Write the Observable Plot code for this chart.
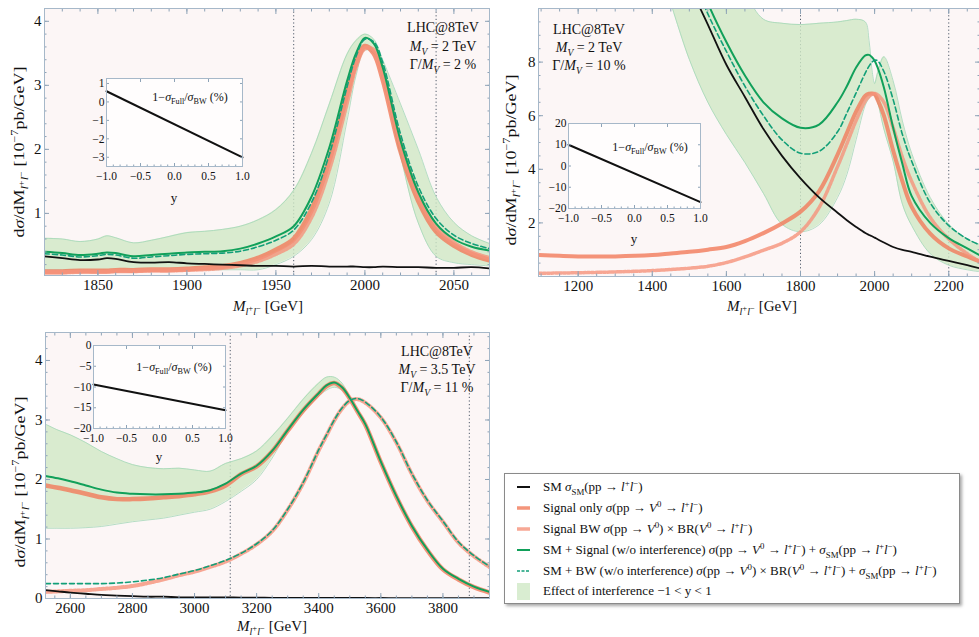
<!DOCTYPE html>
<html><head><meta charset="utf-8">
<script src="https://cdn.jsdelivr.net/npm/d3@7"></script>
<script src="https://cdn.jsdelivr.net/npm/@observablehq/plot@0.6"></script>
<style>
body{margin:0;background:#fff;}
#root{position:relative;width:979px;height:637px;overflow:hidden;font-family:'Liberation Serif','DejaVu Serif',serif;color:#111;background:#fff;}
#root svg, #root svg text{font-family:'Liberation Serif','DejaVu Serif',serif !important;}
.abs{position:absolute;white-space:nowrap;line-height:1;}
sub,sup{font-size:0.68em;line-height:0;}
sub sup{font-size:0.85em;vertical-align:0.45em;}
.ann{font-size:14px;text-align:center;transform:translate(-50%,-50%);}
.xl{font-size:15px;transform:translate(-50%,-50%);}
.yl{font-size:15px;transform:translate(-50%,-50%) rotate(-90deg) scale(1.2,1);}
.il{font-size:12px;transform:translate(-50%,-50%);}
.iy{font-size:13px;transform:translate(-50%,-50%);}
#legend{position:absolute;left:504px;top:473px;width:456px;height:131px;border:1px solid #8a8a8a;box-shadow:2px 2px 3px rgba(0,0,0,0.35);background:#fff;box-sizing:border-box;padding-top:3px;}
.row{display:flex;align-items:center;height:20.8px;font-size:13px;}
.sw{width:13px;margin-left:12px;margin-right:13px;flex:none;}
</style></head><body><div id="root"></div>
<script>
// ---------------- DATA ----------------
// Panel 1: M_V = 2 TeV, Gamma/M_V = 2 %
const tlMass = [1820,1830,1840,1850,1855,1860,1870,1880,1890,1900,1910,1920,1930,1940,1950,1960,1970,1980,1990,1995,2000,2005,2010,2020,2030,2040,2050,2060,2070];
const tlSM = [0.33,0.30,0.27,0.28,0.30,0.29,0.24,0.23,0.24,0.22,0.21,0.20,0.19,0.18,0.18,0.17,0.18,0.17,0.17,0.17,0.16,0.16,0.17,0.16,0.16,0.15,0.15,0.16,0.14];
const tlSignal = [0.09,0.09,0.10,0.10,0.10,0.11,0.11,0.12,0.12,0.13,0.15,0.17,0.22,0.30,0.43,0.60,1.05,1.83,2.87,3.35,3.61,3.50,3.10,1.98,1.20,0.72,0.50,0.36,0.27];
const tlBW = [0.08,0.08,0.09,0.09,0.09,0.10,0.10,0.11,0.11,0.12,0.13,0.15,0.19,0.26,0.37,0.53,0.95,1.70,2.75,3.30,3.58,3.55,3.20,2.10,1.28,0.78,0.54,0.39,0.30];
const tlSMSignal = [0.40,0.38,0.35,0.37,0.39,0.38,0.33,0.35,0.37,0.39,0.40,0.41,0.45,0.53,0.64,0.80,1.26,2.03,3.07,3.50,3.74,3.65,3.28,2.14,1.33,0.84,0.60,0.48,0.42];
const tlSMBW = [0.37,0.35,0.32,0.34,0.36,0.35,0.30,0.32,0.34,0.36,0.37,0.38,0.41,0.48,0.58,0.74,1.17,1.92,2.98,3.45,3.72,3.68,3.36,2.24,1.42,0.92,0.66,0.53,0.45];
const tlBandHigh = [0.61,0.60,0.56,0.60,0.65,0.62,0.54,0.58,0.64,0.70,0.72,0.75,0.80,0.90,1.06,1.36,1.94,2.71,3.49,3.70,3.80,3.72,3.40,2.71,2.00,1.26,0.86,0.65,0.53];
const tlBandLow = [0.12,0.12,0.12,0.12,0.12,0.12,0.12,0.12,0.12,0.12,0.12,0.12,0.12,0.12,0.20,0.33,0.59,1.16,2.45,3.15,3.55,3.50,3.10,1.90,0.85,0.33,0.23,0.20,0.18];
const tlWidthLines = [1960, 2040];
const tlXTicks = [1850,1900,1950,2000,2050];
const tlYTicks = [1,2,3,4];
const tlRatio = [0.58, -3.0];

// Panel 2: M_V = 2 TeV, Gamma/M_V = 10 %
const trMass = [1095,1150,1200,1300,1400,1450,1500,1550,1600,1650,1700,1750,1800,1850,1900,1925,1950,1975,1985,1993,2000,2008,2025,2050,2075,2100,2150,2200,2250,2283];
const trSM = [null,null,null,null,null,12.7,10.9,9.4,7.9,6.7,5.5,4.5,3.66,2.95,2.38,2.1,1.85,1.62,1.55,1.5,1.45,1.39,1.27,1.1,0.99,0.92,0.74,0.58,0.42,0.31];
const trSignal = [0.8,0.77,0.75,0.75,0.8,0.86,0.92,1.0,1.1,1.32,1.62,1.98,2.42,3.18,4.55,5.35,6.15,6.75,6.82,6.83,6.8,6.6,6.0,4.7,3.55,2.6,1.6,1.05,0.75,0.56];
const trBW = [0.12,0.13,0.14,0.17,0.22,0.26,0.31,0.38,0.52,0.73,0.98,1.24,1.67,2.57,4.1,4.95,5.82,6.55,6.72,6.8,6.83,6.78,6.5,5.55,4.45,3.55,2.2,1.4,0.85,0.56];
const trSMSignal = [null,null,null,null,null,14,12.0,10.2,8.75,7.5,6.5,5.9,5.55,5.67,6.5,7.1,7.8,8.25,8.27,8.18,8.05,7.8,7.05,5.55,4.2,3.0,2.0,1.43,1.05,0.8];
const trSMBW = [null,null,null,null,null,13.5,11.5,9.8,8.4,7.1,6.0,5.1,4.6,4.67,5.4,6.1,6.85,7.6,7.85,8.0,8.07,8.05,7.65,6.6,5.3,4.3,2.75,1.9,1.4,1.18];
const trBandHigh = [null,null,null,null,null,12,13,13,12,10.6,9.6,9.45,9.4,9.45,9.5,9.55,9.6,9.5,8.8,7.7,7.2,7.6,8.2,7.3,5.8,4.6,2.95,1.95,1.4,1.2];
const trBandLow = [null,null,null,null,null,10.2,8.1,6.5,5.3,4.25,3.1,1.95,1.67,1.93,2.95,3.8,5.1,6.4,6.65,6.8,6.75,6.5,5.5,4.3,2.7,1.9,0.85,0.42,0.25,0.18];
const trWidthLines = [1800, 2200];
const trXTicks = [1200,1400,1600,1800,2000,2200];
const trYTicks = [2,4,6,8];
const trRatio = [10, -17];

// Panel 3: M_V = 3.5 TeV, Gamma/M_V = 11 %
const blMass = [2520,2560,2600,2650,2700,2750,2800,2850,2900,2950,3000,3050,3100,3150,3200,3250,3300,3350,3400,3425,3450,3475,3500,3525,3550,3600,3650,3700,3750,3800,3850,3900,3950];
const blSM = [0.14,0.12,0.10,0.08,0.06,0.05,0.04,0.03,0.03,0.02,0.02,0.02,0.02,0.015,0.015,0.01,0.01,0.01,0.01,0.01,0.01,0.01,0.01,0.01,0.008,0.008,0.007,0.007,0.006,0.006,0.005,0.005,0.005];
const blSignal = [1.9,1.86,1.82,1.76,1.7,1.67,1.67,1.68,1.7,1.72,1.75,1.8,1.9,2.09,2.22,2.47,2.82,3.16,3.44,3.57,3.62,3.54,3.36,3.14,2.92,2.29,1.71,1.21,0.81,0.49,0.32,0.19,0.1];
const blBW = [0.11,0.12,0.13,0.14,0.16,0.18,0.21,0.26,0.32,0.39,0.45,0.53,0.62,0.75,0.91,1.13,1.49,1.94,2.49,2.74,2.99,3.19,3.32,3.35,3.29,3.04,2.62,2.09,1.64,1.29,0.94,0.71,0.53];
const blSMSignal = [2.06,2.02,1.97,1.9,1.83,1.78,1.76,1.75,1.75,1.76,1.78,1.82,1.93,2.1,2.23,2.48,2.83,3.17,3.45,3.58,3.63,3.55,3.37,3.15,2.93,2.3,1.72,1.22,0.82,0.5,0.33,0.2,0.11];
const blSMBW = [0.25,0.25,0.25,0.25,0.25,0.26,0.28,0.31,0.35,0.41,0.47,0.55,0.64,0.76,0.92,1.14,1.5,1.95,2.5,2.75,3.0,3.2,3.33,3.36,3.3,3.05,2.63,2.1,1.65,1.3,0.95,0.72,0.54];
const blBandHigh = [2.93,2.83,2.75,2.62,2.47,2.35,2.25,2.2,2.18,2.19,2.16,2.14,2.27,2.35,2.48,2.73,3.03,3.35,3.62,3.72,3.72,3.62,3.38,null,null,null,null,null,null,null,null,null,null];
const blBandLow = [1.18,1.18,1.18,1.19,1.21,1.25,1.29,1.32,1.35,1.4,1.45,1.5,1.63,1.8,2.0,2.36,2.8,3.12,3.4,3.5,3.55,3.5,3.36,null,null,null,null,null,null,null,null,null,null];
const blWidthLines = [3115, 3885];
const blXTicks = [2600,2800,3000,3200,3400,3600,3800];
const blYTicks = [0,1,2,3,4];
const blRatio = [-9.4, -15.6];

// Insets
const insetCoupling = [-1, 1];
const insetXTicks = [-1,-0.5,0,0.5,1];
const tlInsetYTicks = [1,0,-1,-2,-3];
const trInsetYTicks = [20,10,0,-10,-20];
const blInsetYTicks = [0,-5,-10,-15,-20];

const panelTexts = [
  ["LHC@8TeV", "<i>M<sub>V</sub></i> = 2 TeV", "Γ/<i>M<sub>V</sub></i> = 2 %"],
  ["LHC@8TeV", "<i>M<sub>V</sub></i> = 2 TeV", "Γ/<i>M<sub>V</sub></i> = 10 %"],
  ["LHC@8TeV", "<i>M<sub>V</sub></i> = 3.5 TeV", "Γ/<i>M<sub>V</sub></i> = 11 %"]
];
const ll = "<i>l</i><sup>+</sup><i>l</i><sup>−</sup>";
const legendLabels = [
  `SM <i>σ</i><sub>SM</sub>(pp → ${ll})`,
  `Signal only <i>σ</i>(pp → <i>V</i><sup>0</sup> → ${ll})`,
  `Signal BW <i>σ</i>(pp → <i>V</i><sup>0</sup>) × BR(<i>V</i><sup>0</sup> → ${ll})`,
  `SM + Signal (w/o interference) <i>σ</i>(pp → <i>V</i><sup>0</sup> → ${ll}) + <i>σ</i><sub>SM</sub>(pp → ${ll})`,
  `SM + BW (w/o interference) <i>σ</i>(pp → <i>V</i><sup>0</sup>) × BR(<i>V</i><sup>0</sup> → ${ll}) + <i>σ</i><sub>SM</sub>(pp → ${ll})`,
  `Effect of interference −1 &lt; y &lt; 1`
];

// ---------------- DRAWING ----------------
const SERIF = "Liberation Serif";
const C = {sm:"#111111", sig:"#f17a5a", bw:"#f5927a", green:"#11a05a", greenDash:"#129f78",
  band:"#cfe9c5", bandEdge:"#a3d7b8", frame:"#a6b8c9", tick:"#8ea3b7", bg:"#fcf6f6"};
const root = document.getElementById("root");

function rowsOf(mass, sm, sig, bw, smsig, smbw, lo, hi) {
  return mass.map((m, i) => ({m, sm: sm[i], sig: sig[i], bw: bw[i], smsig: smsig[i], smbw: smbw[i], lo: lo[i], hi: hi[i]}));
}
function range(a, b, s) { const r = []; for (let v = a; v <= b + 1e-9; v += s) r.push(+v.toFixed(6)); return r; }
function place(el, left, top) { Object.assign(el.style, {position: "absolute", left: left + "px", top: top + "px"}); root.append(el); }

function curveMarks(rows, sw) {
  const o = {x: "m", curve: "catmull-rom", clip: true};
  return [
    Plot.areaY(rows, {...o, y1: "lo", y2: "hi", fill: C.band, fillOpacity: 0.8}),
    Plot.lineY(rows, {...o, y: "hi", stroke: C.bandEdge, strokeWidth: 0.8}),
    Plot.lineY(rows, {...o, y: "lo", stroke: C.bandEdge, strokeWidth: 0.8}),
    Plot.lineY(rows, {...o, y: "sig", stroke: C.sig, strokeWidth: sw, strokeOpacity: 0.8}),
    Plot.lineY(rows, {...o, y: "bw", stroke: C.bw, strokeWidth: sw - 0.5, strokeOpacity: 0.8, strokeDasharray: "2.5,1.5"}),
    Plot.lineY(rows, {...o, y: "sm", stroke: C.sm, strokeWidth: 1.8}),
    Plot.lineY(rows, {...o, y: "smsig", stroke: C.green, strokeWidth: 2}),
    Plot.lineY(rows, {...o, y: "smbw", stroke: C.greenDash, strokeWidth: 1.6, strokeDasharray: "5,3"})
  ];
}

function mainPanel(p) {
  const blank = () => "";
  const svg = Plot.plot({
    width: p.w, height: p.h, marginLeft: p.ml, marginRight: p.mr, marginTop: p.mt, marginBottom: p.mb,
    x: {domain: p.xd, label: null}, y: {domain: p.yd, label: null},
    style: {fontFamily: SERIF, fontSize: "15px", color: "#111", background: "transparent", overflow: "visible"},
    marks: [
      Plot.frame({fill: C.bg, stroke: null}),
      Plot.ruleX(p.vlines, {stroke: "#3c4a5a", strokeWidth: 0.9, strokeDasharray: "1.2,2.4"}),
      ...curveMarks(p.rows, p.sw),
      Plot.axisX({ticks: p.xMinor, tickSize: -2.5, tickFormat: blank, stroke: C.tick}),
      Plot.axisX({ticks: p.xTicks, tickSize: -5, tickPadding: 9, tickFormat: d => String(d), stroke: C.tick}),
      Plot.axisX({anchor: "top", ticks: p.xMinor, tickSize: -2.5, tickFormat: blank, stroke: C.tick}),
      Plot.axisX({anchor: "top", ticks: p.xTicks, tickSize: -5, tickFormat: blank, stroke: C.tick}),
      Plot.axisY({ticks: p.yMinor, tickSize: -2.5, tickFormat: blank, stroke: C.tick}),
      Plot.axisY({ticks: p.yTicks, tickSize: -5, tickPadding: 8, tickFormat: d => String(d), stroke: C.tick}),
      Plot.axisY({anchor: "right", ticks: p.yMinor, tickSize: -2.5, tickFormat: blank, stroke: C.tick}),
      Plot.axisY({anchor: "right", ticks: p.yTicks, tickSize: -5, tickFormat: blank, stroke: C.tick}),
      Plot.frame({stroke: C.frame, strokeWidth: 1})
    ]
  });
  place(svg, p.left, p.top);
}

function insetPanel(p) {
  const blank = () => "";
  const pts = insetCoupling.map((c, i) => ({c, r: p.ratio[i]}));
  const svg = Plot.plot({
    width: p.w, height: p.h, marginLeft: 30, marginRight: 4, marginTop: 8, marginBottom: p.h - 8 - p.fh,
    x: {domain: [-1, 1], label: null}, y: {domain: p.yd, label: null},
    style: {fontFamily: SERIF, fontSize: "11.5px", color: "#111", background: "transparent", overflow: "visible"},
    marks: [
      Plot.frame({fill: "#fffdfd", stroke: null}),
      Plot.line(pts, {x: "c", y: "r", stroke: "#111", strokeWidth: 2}),
      Plot.axisX({ticks: range(-1, 1, 0.1), tickSize: -1.5, tickFormat: blank, stroke: C.tick}),
      Plot.axisX({ticks: insetXTicks, tickSize: -3, tickPadding: 8.5, tickFormat: d3.format(".1f"), stroke: C.tick}),
      Plot.axisX({anchor: "top", ticks: insetXTicks, tickSize: -3, tickFormat: blank, stroke: C.tick}),
      Plot.axisY({ticks: p.yTicks, tickSize: -3, tickPadding: 5, tickFormat: d3.format("d"), stroke: C.tick}),
      Plot.axisY({anchor: "right", ticks: p.yTicks, tickSize: -3, tickFormat: blank, stroke: C.tick}),
      Plot.frame({stroke: C.frame, strokeWidth: 1})
    ]
  });
  place(svg, p.left, p.top);
}

mainPanel({left: 0, top: 0, w: 490, h: 320, ml: 44, mr: 1, mt: 8, mb: 45, sw: 5,
  xd: [1820, 2070], yd: [0.03, 4.2], xTicks: tlXTicks, yTicks: tlYTicks,
  xMinor: range(1820, 2070, 10), yMinor: range(0.2, 4.2, 0.2), vlines: tlWidthLines,
  rows: rowsOf(tlMass, tlSM, tlSignal, tlBW, tlSMSignal, tlSMBW, tlBandLow, tlBandHigh)});
mainPanel({left: 490, top: 0, w: 489, h: 320, ml: 48, mr: 0, mt: 8, mb: 44, sw: 4,
  xd: [1093, 2283], yd: [0, 10], xTicks: trXTicks, yTicks: trYTicks,
  xMinor: range(1100, 2250, 50), yMinor: range(0.5, 9.5, 0.5), vlines: trWidthLines,
  rows: rowsOf(trMass, trSM, trSignal, trBW, trSMSignal, trSMBW, trBandLow, trBandHigh)});
mainPanel({left: 0, top: 320, w: 490, h: 317, ml: 45, mr: 1, mt: 12, mb: 39, sw: 4.5,
  xd: [2520, 3950], yd: [0, 4.47], xTicks: blXTicks, yTicks: blYTicks,
  xMinor: range(2550, 3950, 50), yMinor: range(0.2, 4.4, 0.2), vlines: blWidthLines,
  rows: rowsOf(blMass, blSM, blSignal, blBW, blSMSignal, blSMBW, blBandLow, blBandHigh)});

insetPanel({left: 76, top: 70, w: 170, h: 132, fh: 88, yd: [-3.5, 1.27], yTicks: tlInsetYTicks, ratio: tlRatio});
insetPanel({left: 538, top: 115, w: 166, h: 130, fh: 85, yd: [-20, 20], yTicks: trInsetYTicks, ratio: trRatio});
insetPanel({left: 63, top: 337, w: 166, h: 128, fh: 83, yd: [-20, 0], yTicks: blInsetYTicks, ratio: blRatio});

// ---------------- TEXT OVERLAYS ----------------
function label(cls, html, x, y) {
  const d = document.createElement("div");
  d.className = "abs " + cls; d.innerHTML = html;
  d.style.left = x + "px"; d.style.top = y + "px";
  root.append(d);
}
const annPos = [[443, [28, 47, 65]], [589, [30, 48, 66]], [437, [352, 370, 388]]];
panelTexts.forEach((lines, k) => lines.forEach((t, j) => label("ann", t, annPos[k][0], annPos[k][1][j])));

const xLab = "<i>M</i><sub><i>l</i><sup>+</sup><i>l</i><sup>−</sup></sub> [GeV]";
const yLab = "d<i>σ</i>/dM<sub><i>l</i><sup>+</sup><i>l</i><sup>−</sup></sub> [10<sup>−7</sup>pb/GeV]";
label("xl", xLab, 268, 306); label("xl", xLab, 762, 306); label("xl", xLab, 272, 626);
label("yl", yLab, 19, 152); label("yl", yLab, 511, 160); label("yl", yLab, 20, 482);

const iLab = "1−<i>σ</i><sub>Full</sub>/<i>σ</i><sub>BW</sub> (%)";
label("il", iLab, 190, 97); label("il", iLab, 650, 147); label("il", iLab, 174, 367);
label("iy", "y", 174, 197); label("iy", "y", 634, 238); label("iy", "y", 159, 456);

// ---------------- LEGEND ----------------
const lg = document.createElement("div"); lg.id = "legend";
const swatches = [
  `<svg class="sw" height="8" viewBox="0 0 13 8"><line x1="0" x2="13" y1="4" y2="4" stroke="${C.sm}" stroke-width="2"/></svg>`,
  `<svg class="sw" height="8" viewBox="0 0 13 8"><line x1="0" x2="13" y1="4" y2="4" stroke="${C.sig}" stroke-width="3.5" stroke-opacity="0.8"/></svg>`,
  `<svg class="sw" height="8" viewBox="0 0 13 8"><line x1="0" x2="13" y1="4" y2="4" stroke="${C.bw}" stroke-width="3.5" stroke-opacity="0.8"/></svg>`,
  `<svg class="sw" height="8" viewBox="0 0 13 8"><line x1="0" x2="13" y1="4" y2="4" stroke="${C.green}" stroke-width="2"/></svg>`,
  `<svg class="sw" height="8" viewBox="0 0 13 8"><line x1="0" x2="13" y1="4" y2="4" stroke="${C.greenDash}" stroke-width="1.6" stroke-dasharray="3,1.5"/></svg>`,
  `<svg class="sw" height="17" viewBox="0 0 13 17"><rect width="13" height="17" fill="${C.band}" fill-opacity="0.8"/></svg>`
];
legendLabels.forEach((t, i) => {
  const r = document.createElement("div"); r.className = "row";
  r.innerHTML = swatches[i] + `<span>${t}</span>`;
  lg.append(r);
});
root.append(lg);
</script></body></html>
